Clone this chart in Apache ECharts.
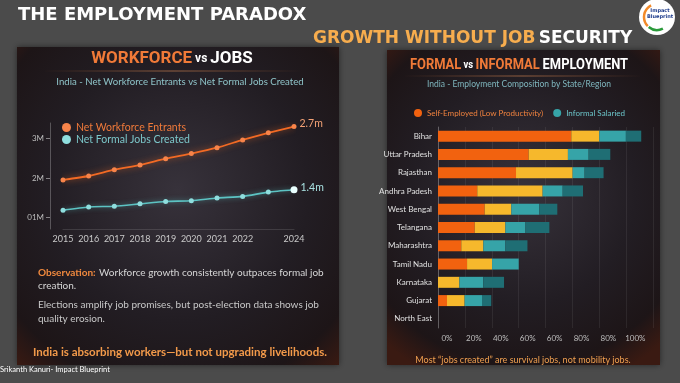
<!DOCTYPE html>
<html><head><meta charset="utf-8">
<script src="https://cdn.jsdelivr.net/npm/echarts@6/dist/echarts.min.js"></script>
<style>html,body{margin:0;padding:0;background:#4b4b4b}#c{width:680px;height:383px}</style>
</head><body><div id="c"></div>
<script>
// ---- Left chart data ----
const years = ['2015','2016','2017','2018','2019','2020','2021','2022','2023','2024'];
const hiddenYearLabels = ['2023'];
const workforceEntrants = [1.95, 2.05, 2.21, 2.33, 2.49, 2.62, 2.77, 2.97, 3.15, 3.31];
const formalJobs = [1.18, 1.26, 1.28, 1.34, 1.40, 1.42, 1.49, 1.53, 1.64, 1.70];
const endLabels = ['2.7m', '1.4m'];
const yTickValues = [1, 2, 3];
const yTickLabels = ['01M', '2M', '3M'];

// ---- Right chart data ----
const states = ['Bihar','Uttar Pradesh','Rajasthan','Andhra Padesh','West Bengal','Telangana','Maharashtra','Tamil Nadu','Karnataka','Gujarat','North East'];
const selfEmployed   = [99.1, 67.4, 58.0, 29.2, 34.7, 27.3, 17.3, 21.6, 0,    6.7, 0];
const casualLabour   = [20.8, 29.2, 42.1, 48.6, 19.8, 22.8, 16.4, 18.6, 15.9, 13.1, 0];
const informalSalary = [19.8, 15.4,  8.9, 14.9, 20.8, 14.9, 16.4, 19.8, 17.8, 12.9, 0];
const formalSalary   = [11.4, 16.1, 14.1, 15.1, 13.4, 17.8, 16.4, 0,    15.4,  6.9, 0];
const xTickLabels = ['0%','20%','40%','60%','60%','80%','80%','100%'];

const chart = echarts.init(document.getElementById('c'), null, {renderer:'canvas'});

const OR = '#f26a24', TE = '#5cc3c3';
const bodyFont = 'Lato';

function panelBg(x, y, w, h) {
  return {
    type: 'rect', z: 0, shape: {x, y, width: w, height: h},
    style: {
      fill: new echarts.graphic.RadialGradient(0.5, 0.45, 0.75, [
        {offset: 0, color: '#37323b'},
        {offset: 0.55, color: '#221d23'},
        {offset: 0.85, color: '#1d1517'},
        {offset: 1, color: '#3a1a12'}
      ]),
      shadowBlur: 6, shadowColor: 'rgba(0,0,0,0.5)'
    }
  };
}
function divider(x1, x2, y) {
  return {
    type: 'line', z: 5, shape: {x1, y1: y, x2, y2: y},
    style: {
      stroke: new echarts.graphic.LinearGradient(0, 0, 1, 0, [
        {offset: 0, color: 'rgba(240,130,60,0)'},
        {offset: 0.5, color: 'rgba(240,150,90,0.55)'},
        {offset: 1, color: 'rgba(240,130,60,0)'}
      ]), lineWidth: 1
    }
  };
}

const option = {
  backgroundColor: '#4b4b4b',
  animation: false,
  graphic: [
    panelBg(17, 47, 322, 318),
    panelBg(387, 50, 273, 315),
    {type: 'text', z: 10, style: {x: 18, y: 15, text: 'THE EMPLOYMENT PARADOX', font: 'bold 18px "DejaVu Sans"', fill: '#ffffff', verticalAlign: 'middle'}},
    {type: 'text', z: 10, style: {x: 313, y: 39, text: '{a|GROWTH WITHOUT JOB} {b|SECURITY}', verticalAlign: 'middle',
      rich: {a: {font: 'bold 17px "DejaVu Sans"', fill: '#f7ad4e'}, b: {font: 'bold 17px "DejaVu Sans"', fill: '#ffffff'}}}},
    // logo
    {type: 'circle', z: 10, shape: {cx: 657, cy: 17, r: 18}, style: {fill: '#ffffff'}},
    {type: 'arc', z: 11, shape: {cx: 657, cy: 17, r: 13, startAngle: Math.PI * 0.75, endAngle: Math.PI * 1.35}, style: {stroke: '#f28a2a', lineWidth: 2.5, fill: 'none'}},
    {type: 'arc', z: 11, shape: {cx: 657, cy: 17, r: 13, startAngle: Math.PI * 0.35, endAngle: Math.PI * 0.72}, style: {stroke: '#2a9a3a', lineWidth: 2.5, fill: 'none'}},
    {type: 'text', z: 12, style: {x: 660, y: 14, text: 'Impact\nBlueprint', font: 'bold 5px "DejaVu Sans"', fill: '#1e3c8c', align: 'center', verticalAlign: 'middle', lineHeight: 6}},

    // left panel texts
    {type: 'text', z: 10, style: {x: 172, y: 59, align: 'center', verticalAlign: 'middle',
      text: '{a|WORKFORCE}{v| vs }{b|JOBS}',
      rich: {a: {font: 'bold 17px Roboto', fill: '#f07a38'}, v: {font: 'bold 12px Roboto', fill: '#ffffff'}, b: {font: 'bold 17px Roboto', fill: '#ffffff'}}}},
    divider(45, 300, 71),
    {type: 'text', z: 10, style: {x: 180, y: 82, align: 'center', verticalAlign: 'middle', text: 'India - Net Workforce Entrants vs Net Formal Jobs Created', font: '9.6px ' + bodyFont, fill: '#8fc4c9'}},
    {type: 'text', z: 10, style: {x: 38, y: 273, verticalAlign: 'middle', text: '{o|Observation:} {t|Workforce growth consistently outpaces formal job}',
      rich: {o: {font: 'bold 10px ' + bodyFont, fill: '#f0893e'}, t: {font: '10px ' + bodyFont, fill: '#d6d6d6'}}}},
    {type: 'text', z: 10, style: {x: 38, y: 286, verticalAlign: 'middle', text: 'creation.', font: '10px ' + bodyFont, fill: '#d6d6d6'}},
    {type: 'text', z: 10, style: {x: 38, y: 305, verticalAlign: 'middle', text: 'Elections amplify job promises, but post-election data shows job', font: '10px ' + bodyFont, fill: '#c8c8c8'}},
    {type: 'text', z: 10, style: {x: 38, y: 319, verticalAlign: 'middle', text: 'quality erosion.', font: '10px ' + bodyFont, fill: '#c8c8c8'}},
    {type: 'text', z: 10, style: {x: 180, y: 352, align: 'center', verticalAlign: 'middle', text: 'India is absorbing workers\u2014but not upgrading livelihoods.', font: 'bold 11.5px ' + bodyFont, fill: '#f39a4a'}},
    {type: 'text', z: 10, style: {x: 0, y: 370, verticalAlign: 'middle', text: 'Srikanth Kanuri- Impact Blueprint', font: '7.5px ' + bodyFont, fill: '#ffffff'}},

    // right panel texts
    {type: 'text', z: 10, x: 519, y: 65, scaleX: 0.86, style: {x: 0, y: 0, align: 'center', verticalAlign: 'middle',
      text: '{a|FORMAL}{v| vs }{a|INFORMAL} {b|EMPLOYMENT}',
      rich: {a: {font: 'bold 15px Roboto', fill: '#f07a38'}, v: {font: 'bold 11px Roboto', fill: '#ffffff'}, b: {font: 'bold 15px Roboto', fill: '#ffffff'}}}},
    divider(405, 640, 76),
    {type: 'text', z: 10, style: {x: 519, y: 84, align: 'center', verticalAlign: 'middle', text: 'India - Employment Composition by State/Region', font: '8.5px ' + bodyFont, fill: '#7fb6be'}},
    {type: 'text', z: 10, style: {x: 523, y: 360, align: 'center', verticalAlign: 'middle', text: 'Most \u201cjobs created\u201d are survival jobs, not mobility jobs.', font: '9px ' + bodyFont, fill: '#f0a050'}}
  ],
  legend: [
    {
      orient: 'vertical', left: 57, top: 117, itemGap: 1, itemWidth: 9, itemHeight: 9, icon: 'circle',
      textStyle: {fontFamily: bodyFont, fontSize: 10.5},
      data: [
        {name: 'Net Workforce Entrants', textStyle: {color: '#f07a3a'}},
        {name: 'Net Formal Jobs Created', textStyle: {color: '#7cc7ca'}}
      ]
    },
    {
      orient: 'horizontal', left: 409, top: 104, itemGap: 10, itemWidth: 8, itemHeight: 8, icon: 'circle',
      textStyle: {fontFamily: bodyFont, fontSize: 8},
      data: [
        {name: 'Self-Employed (Low Productivity)', textStyle: {color: '#f0823e'}},
        {name: 'Informal Salaried', textStyle: {color: '#6cc5ca'}}
      ]
    }
  ],
  grid: [
    {left: 63, right: 386, top: 123, bottom: 154},
    {left: 438, right: 26.8, top: 127, bottom: 55}
  ],
  xAxis: [
    {
      gridIndex: 0, type: 'category', data: years, boundaryGap: false,
      axisLine: {show: true, lineStyle: {color: 'rgba(255,255,255,0.12)'}},
      axisTick: {show: false},
      axisLabel: {color: '#c9c9c9', fontSize: 9, fontFamily: bodyFont, margin: 6,
        interval: (i, v) => hiddenYearLabels.indexOf(v) < 0},
      splitLine: {show: false}
    },
    {
      gridIndex: 1, type: 'value', min: 0, max: 160, interval: 20,
      axisLine: {show: false}, axisTick: {show: false},
      axisLabel: {color: '#bdbdbd', fontSize: 8, fontFamily: bodyFont, margin: 6, padding: [0, 0, 0, 18],
        formatter: (v) => { const i = Math.round(v / 20); return i < xTickLabels.length ? xTickLabels[i] : ''; }},
      splitLine: {show: true, lineStyle: {color: 'rgba(255,255,255,0.07)'}}
    }
  ],
  yAxis: [
    {
      gridIndex: 0, type: 'value', min: 0.7, max: 3.4, offset: 13,
      axisLine: {show: true, lineStyle: {color: 'rgba(255,255,255,0.25)'}},
      axisTick: {show: true, customValues: yTickValues, length: 4, inside: false, lineStyle: {color: 'rgba(255,255,255,0.45)'}},
      axisLabel: {customValues: yTickValues, color: '#bdbdbd', fontSize: 8, fontFamily: bodyFont, margin: 6,
        formatter: (v) => yTickLabels[yTickValues.indexOf(Math.round(v))] || ''},
      splitLine: {show: false}
    },
    {
      gridIndex: 1, type: 'category', data: states, inverse: true,
      axisLine: {show: true, lineStyle: {color: 'rgba(255,255,255,0.25)'}},
      axisTick: {show: false},
      axisLabel: {color: '#e0e0e0', fontSize: 8, fontFamily: bodyFont, margin: 6}
    }
  ],
  series: [
    {
      name: 'Net Workforce Entrants', type: 'line', xAxisIndex: 0, yAxisIndex: 0, smooth: 0.2,
      symbol: 'circle', symbolSize: 5, color: OR,
      lineStyle: {width: 1.8, color: OR, shadowBlur: 6, shadowColor: 'rgba(242,106,36,0.7)'},
      itemStyle: {color: '#f7844a'},
      data: workforceEntrants.map((v, i) => i === workforceEntrants.length - 1 ? {value: v,
        label: {show: true, position: 'right', offset: [-2, -3], formatter: endLabels[0], color: '#f4a276', fontSize: 10.5, fontFamily: bodyFont}} : v)
    },
    {
      name: 'Net Formal Jobs Created', type: 'line', xAxisIndex: 0, yAxisIndex: 0, smooth: 0.2,
      symbol: 'circle', symbolSize: 5, color: TE,
      lineStyle: {width: 1.6, color: TE, shadowBlur: 5, shadowColor: 'rgba(92,195,195,0.6)'},
      itemStyle: {color: '#8fdede'},
      data: formalJobs.map((v, i) => i === formalJobs.length - 1 ? {value: v, symbolSize: 7, itemStyle: {color: '#eaffff'},
        label: {show: true, position: 'right', offset: [-2, -2], formatter: endLabels[1], color: '#a8e0e0', fontSize: 10.5, fontFamily: bodyFont}} : v)
    },
    {name: 'Self-Employed (Low Productivity)', type: 'bar', stack: 'emp', xAxisIndex: 1, yAxisIndex: 1, barWidth: 11,
      itemStyle: {color: '#f2620f'}, color: '#f2620f', data: selfEmployed},
    {name: 'Casual Labour', type: 'bar', stack: 'emp', xAxisIndex: 1, yAxisIndex: 1, barWidth: 11,
      itemStyle: {color: '#f6b82c'}, data: casualLabour},
    {name: 'Informal Salaried', type: 'bar', stack: 'emp', xAxisIndex: 1, yAxisIndex: 1, barWidth: 11,
      itemStyle: {color: '#36a4a8'}, color: '#3fb3b8', data: informalSalary},
    {name: 'Formal Salaried', type: 'bar', stack: 'emp', xAxisIndex: 1, yAxisIndex: 1, barWidth: 11,
      itemStyle: {color: '#1f6e74'}, data: formalSalary}
  ]
};
chart.setOption(option);
</script>
</body></html>
